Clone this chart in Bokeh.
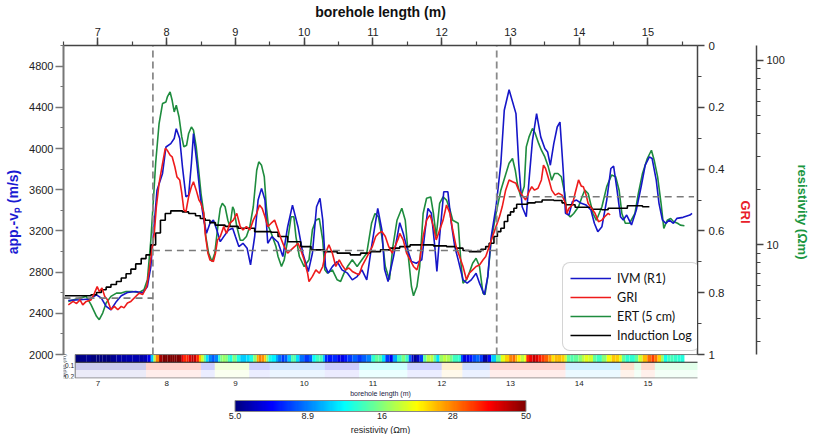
import numpy as np
from bokeh.plotting import figure
from bokeh.models import (Range1d, LinearAxis, LogAxis, LogScale, SingleIntervalTicker, FixedTicker,
                          PrintfTickFormatter, Legend, LegendItem, ColorBar, LogColorMapper, Title,
                          ColumnDataSource, Label)
from bokeh.core.properties import value
from bokeh.embed import file_html
from bokeh.resources import INLINE

# ---------------- data ----------------
ivm_x = [6.57, 6.74, 6.88, 6.98, 7.05, 7.12, 7.19, 7.27, 7.34, 7.43, 7.55, 7.65, 7.72, 7.77, 7.82, 7.86, 7.94, 7.99,
         8.06, 8.11, 8.14, 8.19, 8.23, 8.28, 8.32, 8.36, 8.39, 8.44, 8.49, 8.54, 8.58, 8.63, 8.68, 8.73, 8.78, 8.83,
         8.90, 8.96, 9.00, 9.05, 9.11, 9.17, 9.22, 9.28, 9.33, 9.38, 9.43, 9.47, 9.53, 9.62, 9.69, 9.76, 9.83, 9.91,
         9.98, 10.06, 10.12, 10.18, 10.23, 10.27, 10.31, 10.35, 10.41, 10.48, 10.55, 10.63, 10.70, 10.77, 10.84,
         10.91, 10.98, 11.07, 11.13, 11.17, 11.22, 11.30, 11.39, 11.44, 11.49, 11.56, 11.63, 11.71, 11.76, 11.80,
         11.85, 11.90, 11.93, 11.97, 12.03, 12.09, 12.14, 12.19, 12.24, 12.31, 12.37, 12.43, 12.50, 12.55, 12.62,
         12.67, 12.72, 12.79, 12.86, 12.91, 12.98, 13.08, 13.12, 13.17, 13.23, 13.27, 13.32, 13.38, 13.44, 13.50,
         13.54, 13.58, 13.63, 13.68, 13.72, 13.77, 13.80, 13.85, 13.90, 13.96, 14.03, 14.10, 14.17, 14.22, 14.27,
         14.33, 14.40, 14.46, 14.50, 14.55, 14.60, 14.64, 14.69, 14.76, 14.83, 14.90, 14.96, 15.02, 15.06, 15.12,
         15.16, 15.21, 15.26, 15.31, 15.37, 15.42, 15.51, 15.61, 15.64]
ivm_vp = [2525, 2532, 2539, 2580, 2548, 2467, 2435, 2516, 2571, 2603, 2612, 2597, 2661, 2854, 3274, 3596, 3758, 4015,
          4048, 4097, 4193, 4097, 3822, 3532, 3548, 3855, 4145, 3855, 3532, 3306, 3177, 3274, 3306, 3209, 3096, 3145,
          3209, 3226, 3145, 3048, 3080, 3032, 2870, 3145, 3500, 3613, 3500, 3080, 3145, 3090, 2951, 3241, 3451, 3241,
          2984, 2806, 2984, 3435, 3516, 3306, 2854, 2790, 2854, 2903, 2822, 2790, 2725, 2757, 2822,
          2725, 3048, 3419, 3209, 2825, 2709, 2951, 3280, 3177, 3048, 2903, 2887, 2919, 3209, 3419,
          3371, 3048, 2806, 3145, 3580, 3580, 3274, 3048, 2919, 2725, 2693, 2725, 2790, 2693, 2580,
          2757, 3145, 3435, 3855, 4371, 4571, 4339, 3855, 3435, 3338, 3693, 4080, 4339, 4113, 4000,
          3967, 3838, 4048, 4209, 4257, 3758, 3371, 3354, 3484, 3500, 3468, 3451, 3403, 3274, 3193,
          3241, 3500, 3806, 3829, 3596, 3338, 3306, 3354, 3258, 3403, 3629, 3838, 3919, 3903, 3693,
          3468, 3306, 3274, 3306, 3274, 3322, 3332, 3354, 3371]

gri_x = [6.57, 6.64, 6.69, 6.74, 6.78, 6.83, 6.90, 6.95, 6.99, 7.02, 7.06, 7.10, 7.14, 7.19, 7.24, 7.29, 7.34, 7.38,
         7.43, 7.48, 7.55, 7.60, 7.65, 7.71, 7.74, 7.78, 7.82, 7.85, 7.89, 7.94, 7.98, 8.01, 8.05, 8.08, 8.12, 8.15,
         8.19, 8.22, 8.25, 8.28, 8.32, 8.36, 8.39, 8.43, 8.47, 8.50, 8.54, 8.56, 8.60, 8.63, 8.68, 8.71, 8.74, 8.78,
         8.83, 8.87, 8.92, 8.97, 9.02, 9.07, 9.11, 9.16, 9.21, 9.26, 9.31, 9.35, 9.39, 9.43, 9.47, 9.52, 9.57,
         9.62, 9.67, 9.71, 9.76, 9.81, 9.86, 9.91, 9.95, 10.00, 10.05, 10.07, 10.12, 10.17, 10.22, 10.27, 10.31,
         10.36, 10.41, 10.46, 10.51, 10.55, 10.60, 10.65, 10.70, 10.75, 10.80, 10.84, 10.89, 10.94, 10.99, 11.04,
         11.08, 11.13, 11.18, 11.23, 11.28, 11.32, 11.37, 11.39, 11.44, 11.49, 11.54, 11.59, 11.64, 11.68, 11.73,
         11.78, 11.83, 11.88, 11.92, 11.97, 12.02, 12.07, 12.12, 12.16, 12.21, 12.26, 12.31, 12.36, 12.40, 12.45,
         12.50, 12.55, 12.60, 12.64, 12.69, 12.74, 12.79, 12.84,
         12.88, 12.93, 12.98, 13.03, 13.08, 13.12, 13.17, 13.22, 13.27, 13.31, 13.35, 13.40, 13.45, 13.48, 13.51,
         13.56, 13.60, 13.65, 13.70, 13.75, 13.80, 13.82, 13.85, 13.90, 13.94, 13.99, 14.03, 14.06, 14.10, 14.13,
         14.18, 14.23, 14.28, 14.33, 14.37, 14.42, 14.45]
gri_val = [0.839, 0.828, 0.835, 0.823, 0.839, 0.828, 0.823, 0.801, 0.780, 0.796, 0.785, 0.812, 0.823, 0.855, 0.844,
           0.855, 0.844, 0.849, 0.833, 0.828, 0.812, 0.801, 0.806, 0.780, 0.737, 0.672, 0.608, 0.522, 0.446, 0.382,
           0.333, 0.339, 0.355, 0.360, 0.393, 0.425, 0.435, 0.478, 0.532, 0.538, 0.489, 0.457, 0.441, 0.468, 0.500,
           0.511, 0.543, 0.608, 0.672, 0.694, 0.699, 0.672, 0.629, 0.618, 0.586, 0.608, 0.575, 0.565, 0.543, 0.586,
           0.597, 0.586, 0.597, 0.565, 0.543, 0.516, 0.527, 0.554, 0.586, 0.575, 0.565,
           0.597, 0.629, 0.651, 0.672, 0.661, 0.651, 0.640, 0.661, 0.694, 0.737, 0.764, 0.747, 0.726, 0.737, 0.715,
           0.672, 0.645, 0.672, 0.715, 0.694, 0.710, 0.726, 0.720, 0.731, 0.737, 0.742, 0.715, 0.694, 0.672, 0.651,
           0.618, 0.608, 0.602, 0.618, 0.651, 0.672, 0.651, 0.624, 0.608, 0.629, 0.672, 0.694, 0.715, 0.726, 0.694,
           0.618, 0.565, 0.548, 0.586, 0.629, 0.597, 0.565, 0.516, 0.543, 0.597, 0.651, 0.683, 0.715, 0.758, 0.737,
           0.726, 0.715, 0.710, 0.694, 0.683, 0.651, 0.618, 0.586, 0.554,
           0.522, 0.468, 0.435, 0.441, 0.446, 0.468, 0.484, 0.500, 0.473, 0.457, 0.468, 0.462, 0.435, 0.387, 0.398,
           0.435, 0.468, 0.484, 0.478, 0.484, 0.511, 0.543, 0.527, 0.516, 0.478, 0.435, 0.455, 0.457, 0.484, 0.511,
           0.527, 0.543, 0.570, 0.565, 0.554, 0.543, 0.548]

ert_x = [6.57, 6.74, 6.83, 6.90, 6.98, 7.02, 7.07, 7.12, 7.19, 7.27, 7.34, 7.41, 7.50, 7.60, 7.67, 7.72, 7.77, 7.81,
         7.84, 7.89, 7.94, 7.99, 8.01, 8.05, 8.08, 8.11, 8.14, 8.18, 8.22, 8.25, 8.29, 8.32, 8.36, 8.39, 8.43, 8.47,
         8.50, 8.54, 8.57, 8.61, 8.66, 8.70, 8.75, 8.78, 8.81, 8.85, 8.89, 8.92, 8.96, 8.98, 9.02, 9.07, 9.11, 9.16,
         9.21, 9.26, 9.31, 9.34, 9.38, 9.42, 9.45, 9.48, 9.52, 9.59,
         9.62, 9.67, 9.71, 9.76, 9.81, 9.85, 9.88, 9.93, 10.00, 10.07, 10.12, 10.17, 10.22, 10.27, 10.30, 10.34,
         10.41, 10.48, 10.53, 10.58, 10.63, 10.70, 10.77, 10.84, 10.91, 10.98, 11.03, 11.08, 11.13, 11.18, 11.24,
         11.29, 11.35, 11.42, 11.47, 11.52, 11.56, 11.59, 11.64, 11.68, 11.73, 11.78, 11.84, 11.88, 11.92, 11.97,
         12.02, 12.07, 12.12, 12.16, 12.24, 12.28, 12.31, 12.36, 12.40, 12.45, 12.50, 12.55, 12.60, 12.63, 12.67,
         12.72, 12.79, 12.86, 12.92,
         12.98, 13.03, 13.07, 13.10, 13.15, 13.20, 13.23, 13.27, 13.32, 13.36, 13.41, 13.45, 13.50, 13.55, 13.60,
         13.64, 13.69, 13.74, 13.79, 13.82, 13.87, 13.92, 13.99, 14.04, 14.08, 14.13, 14.20, 14.25, 14.33, 14.40,
         14.47, 14.53, 14.58, 14.62, 14.67, 14.73, 14.81, 14.86, 14.92, 14.99, 15.05, 15.09, 15.14, 15.19, 15.23,
         15.28, 15.33, 15.37, 15.43, 15.47, 15.53]
ert_res = [4.94, 5.15, 5.26, 4.74, 4.10, 3.93, 4.27, 4.84, 5.26, 5.48, 5.48, 5.59, 5.59, 5.52, 5.71, 6.47, 10.6, 18.2,
           27.7, 45.5, 58.4, 59.6, 63.4, 67.5, 60.8, 52.6, 57.2, 49.4, 38.5, 34.0, 34.7, 40.2, 43.6, 41.9, 34.0, 24.4,
           19.0, 14.8, 11.1, 9.02, 8.13, 9.02, 13.1, 15.8, 16.8, 16.1, 13.6, 12.6, 16.1, 15.5, 12.6, 10.6, 10.6, 11.1,
           12.6, 16.1, 25.4, 28.2, 27.0, 23.4, 16.1, 12.6, 11.6, 9.8,
           8.65, 7.63, 8.30, 10.6, 14.2, 14.2, 11.1, 8.65, 7.63, 8.30, 12.1, 13.6, 13.9, 10.6, 7.33, 7.03,
           7.33, 6.47, 6.34, 7.03, 7.63, 8.30, 7.63, 8.30, 9.02, 13.1, 14.8, 14.2, 11.1, 7.63, 6.47,
           9.8, 13.6, 15.8, 13.6, 8.30, 5.95, 5.30, 5.95, 7.63, 14.8, 17.9, 18.2, 14.8, 11.1, 16.8,
           18.2, 17.5, 15.5, 13.6, 13.1, 7.96, 6.21, 6.47, 7.03, 7.96, 8.47, 7.63, 5.48, 5.37, 6.74,
           10.6, 14.8, 19.8, 23.4,
           27.7, 29.4, 25.4, 21.5, 18.2, 20.7, 34.0, 38.5, 42.8, 40.2, 35.5, 32.6, 30.0, 26.5, 22.4,
           24.4, 24.4, 23.4, 19.0, 14.8, 14.2, 14.8, 16.1, 18.2, 19.8, 19.0, 14.8, 13.6, 16.1, 20.7,
           23.9, 23.4, 19.8, 14.8, 13.1, 13.1, 14.8, 19.0, 24.4, 29.4, 32.6, 28.8, 23.4, 16.8, 12.3,
           13.6, 13.9, 13.4, 13.1, 12.8, 12.7]

ind_x = [6.52, 6.90, 6.98, 7.05, 7.12, 7.19, 7.27, 7.34, 7.41, 7.48, 7.55, 7.63, 7.70, 7.77, 7.84, 7.91, 7.98, 8.06,
         8.23, 8.32, 8.42, 8.49, 8.56, 8.63, 8.71, 8.85, 9.04, 9.28, 9.52, 9.62, 9.76, 9.95, 10.10, 10.29, 10.48,
         10.67, 10.82, 10.96, 11.11, 11.25, 11.39, 11.54, 11.88, 12.07, 12.21, 12.31, 12.40, 12.57, 12.64, 12.69,
         12.76, 12.81, 12.86, 12.91, 12.96, 13.00, 13.05, 13.09, 13.25, 13.36, 13.46, 13.63, 13.75, 13.80, 13.94,
         14.18, 14.33, 14.42, 14.70, 14.92, 15.02]
ind_res = [5.30, 5.37, 5.52, 5.71, 5.90, 6.10, 6.33, 6.61, 6.97, 7.39, 7.89, 8.43, 8.83, 10.0, 11.6, 13.6, 14.8, 15.3,
           15.1, 14.8, 14.4, 13.9, 13.6, 13.2, 12.8, 12.6, 12.3, 11.8, 11.7, 11.1, 10.4, 9.79, 9.40, 9.20, 9.02,
           8.83, 9.02, 9.20, 9.40, 9.60, 9.79, 10.0, 9.88, 9.79, 9.60, 9.32, 9.20, 9.48, 9.79, 10.2,
           11.1, 11.8, 12.3, 13.4, 14.5, 15.1, 15.8, 16.6, 16.9, 17.1, 17.5, 17.4, 16.9, 16.5, 16.0,
           15.6, 15.5, 15.8, 16.3, 16.1, 16.1]

boundaries = [7.8, 12.8]                  # unit boundaries (vertical dashed lines)
zone_start = [6.5, 7.8, 12.8]
zone_end = [7.8, 12.8, 15.67]
zone_vp = [2548, 3010, 3532]              # horizontal dashed levels (m/s)

strip_lower_edges = [6.67, 7.7, 8.5, 8.7, 9.2, 9.5, 10.3, 10.8, 11.5, 12.0, 12.3, 12.7, 13.8, 14.6, 14.8, 14.9, 15.1, 15.76]
strip_lower_res = [5.5, 35, 7, 18, 7, 9, 6.5, 12, 7, 25, 8, 35, 10, 30, 15, 32, 15]

depth_ticks = [0.1, 0.2]
depth_labels = ["0.1", "0.2"]
cbar_ticks = [5.0, 8.9, 16, 28, 50]
cbar_labels = ["5.0", "8.9", "16", "28", "50"]

# ---------------- layout constants (page pixels; Bokeh page has no body margin) ----------------
W, H = 812, 434
FRAME_L, FRAME_R = 63, 703
FRAME_T, FRAME_B = 45, 379
MAIN_B = 355
VP_MIN, VP_MAX = 2000, 5000
RES_100_Y, RES_DECADE = 60, 185.0
DEPTH_PX = 110.0
STRIP_L, STRIP_R = 6.67, 15.76
STRIP_LINE = 0.07
STRIP_BOTTOM = (FRAME_B - MAIN_B) / DEPTH_PX

BLUE = "#1616c8"
RED = "#ee1b1b"
GREEN = "#1e8c3e"
AX = "#444444"
TXT = "#222222"
FONT = "Liberation Sans"


def jet(n=256):
    out = []
    for v in np.linspace(0, 1, n):
        r = np.clip(1.5 - abs(4 * v - 3), 0, 1)
        g = np.clip(1.5 - abs(4 * v - 2), 0, 1)
        b = np.clip(1.5 - abs(4 * v - 1), 0, 1)
        out.append("#%02x%02x%02x" % (int(r * 255), int(g * 255), int(b * 255)))
    return out


JET = jet()

vp_per_px = (VP_MAX - VP_MIN) / (MAIN_B - FRAME_T)
y_range = Range1d(VP_MIN - (FRAME_B - MAIN_B) * vp_per_px, VP_MAX)
gri_per_px = 1.0 / (MAIN_B - FRAME_T)
gri_range = Range1d(1 + (FRAME_B - MAIN_B) * gri_per_px, 0)
log_top = 2 + (RES_100_Y - FRAME_T) / RES_DECADE
log_mb = 2 - (MAIN_B - RES_100_Y) / RES_DECADE
log_fb = log_mb - (FRAME_B - MAIN_B) / RES_DECADE
res_range = Range1d(10 ** log_fb, 10 ** log_top)
depth_range = Range1d(STRIP_BOTTOM, -(MAIN_B - FRAME_T) / DEPTH_PX)

p = figure(width=W, height=H, x_range=Range1d(6.5, 15.72), y_range=y_range,
           x_axis_location="above", output_backend="svg", toolbar_location=None,
           min_border_left=FRAME_L, min_border_right=W - FRAME_R,
           min_border_top=FRAME_T, min_border_bottom=H - FRAME_B)
p.extra_y_ranges = {"gri": gri_range, "res": res_range, "depth": depth_range}
p.extra_y_scales = {"res": LogScale()}
p.grid.visible = False
p.outline_line_color = None
p.background_fill_color = "white"
p.border_fill_color = "white"


def style_axis(ax, size="11px"):
    ax.major_label_text_font = FONT
    ax.major_label_text_font_size = size
    ax.major_label_text_color = TXT
    ax.axis_label_text_font = FONT
    ax.axis_label_text_font_style = "bold"
    ax.axis_line_color = AX
    ax.major_tick_line_color = AX
    ax.minor_tick_line_color = AX
    ax.axis_line_width = 1.5
    ax.major_tick_line_width = 1.5
    ax.minor_tick_line_width = 1.2
    ax.major_tick_in = 0
    ax.minor_tick_in = 0


# top axis
top = p.xaxis[0]
top.ticker = SingleIntervalTicker(interval=1, num_minor_ticks=2)
style_axis(top)
top.axis_label = "borehole length (m)"
top.axis_label_text_font_size = "14px"
top.axis_label_text_color = "#111111"
top.major_tick_out = 8
top.minor_tick_out = 4
top.major_label_standoff = 2
top.axis_label_standoff = 5

# left axis (app. vp)
left = p.yaxis[0]
left.ticker = SingleIntervalTicker(interval=400, num_minor_ticks=2)
left.bounds = (VP_MIN, VP_MAX)
style_axis(left)
left.axis_line_color = "#777777"
left.axis_line_width = 2
left.major_tick_line_color = "#777777"
left.minor_tick_line_color = "#777777"
left.axis_label = "app.-v\u209a (m/s)"
left.axis_label_text_font_size = "14px"
left.axis_label_text_color = "#1a1ad2"
left.major_tick_out = 8
left.minor_tick_out = 3
left.major_label_standoff = 2
left.axis_label_standoff = 5

# GRI axis
gri_axis = LinearAxis(y_range_name="gri", ticker=SingleIntervalTicker(interval=0.2, num_minor_ticks=2),
                      bounds=(0, 1), formatter=PrintfTickFormatter(format="%.3g"))
style_axis(gri_axis, "11.5px")
gri_axis.axis_label = "GRI"
gri_axis.axis_label_text_font_size = "13px"
gri_axis.axis_label_text_color = "#e8202a"
gri_axis.major_tick_out = 7
gri_axis.minor_tick_out = 4
gri_axis.major_label_standoff = 4
gri_axis.axis_label_standoff = 11
p.add_layout(gri_axis, "right")

# resistivity axis
res_axis = LogAxis(y_range_name="res",
                   ticker=FixedTicker(ticks=[10, 100], minor_ticks=[3, 4, 5, 6, 7, 8, 9, 20, 30, 40, 50, 60, 70, 80, 90]),
                   bounds=(10 ** log_mb, 10 ** log_top), formatter=PrintfTickFormatter(format="%d"))
style_axis(res_axis, "11px")
res_axis.axis_label = "resistivity (\u03a9m)"
res_axis.axis_label_text_font_size = "13px"
res_axis.axis_label_text_color = "#1a9641"
res_axis.major_tick_out = 7
res_axis.minor_tick_out = 4
res_axis.major_label_standoff = 3
res_axis.axis_label_standoff = 7
p.add_layout(res_axis, "right")

# ---------------- resistivity strip ----------------
cmap = LogColorMapper(palette=JET, low=5, high=50)
ex = np.array(ert_x)
er = np.array(ert_res)
up_l = np.clip(ex[:-1], STRIP_L, STRIP_R)
up_r = np.clip(ex[1:], STRIP_L, STRIP_R)
keep = up_r > up_l
up_src = ColumnDataSource(dict(l=up_l[keep], r_=up_r[keep], r=er[:-1][keep]))
p.quad(left="l", right="r_", top=0, bottom=STRIP_LINE, y_range_name="depth", source=up_src,
       fill_color={"field": "r", "transform": cmap}, line_color=None)
lo_src = ColumnDataSource(dict(l=strip_lower_edges[:-1], r_=strip_lower_edges[1:], r=strip_lower_res))
p.quad(left="l", right="r_", top=STRIP_LINE, bottom=0.14, y_range_name="depth", source=lo_src,
       fill_color={"field": "r", "transform": cmap}, fill_alpha=0.2, line_color=None)
p.quad(left="l", right="r_", top=0.14, bottom=STRIP_BOTTOM, y_range_name="depth", source=lo_src,
       fill_color={"field": "r", "transform": cmap}, fill_alpha=0.08, line_color=None)
p.segment(x0=[STRIP_L], y0=[STRIP_LINE], x1=[STRIP_R], y1=[STRIP_LINE], y_range_name="depth",
          line_color="#222222", line_width=1)
p.quad(left=[STRIP_L], right=[STRIP_R], top=[0], bottom=[STRIP_BOTTOM - 0.004], y_range_name="depth",
       fill_color=None, line_color="#777777", line_width=1)
p.text(x=[STRIP_L - 0.015] * 2, y=depth_ticks, text=depth_labels, y_range_name="depth",
       text_font=value(FONT), text_font_size="6.5px", text_align="right", text_baseline="middle",
       text_color=TXT)
p.add_layout(Label(x=6.55, y=0.11, y_range_name="depth", text="depth (m)", angle=np.pi / 2,
                   text_font=FONT, text_font_size="6px", text_align="center", text_baseline="bottom",
                   text_color="#333333", level="overlay"))

# ---------------- curves ----------------
r_ert = p.line(ert_x, ert_res, y_range_name="res", line_color=GREEN, line_width=1.6)
r_ivm = p.line(ivm_x, ivm_vp, line_color=BLUE, line_width=1.6)
r_ind = p.step(ind_x, ind_res, mode="after", y_range_name="res", line_color="black", line_width=1.6)
r_gri = p.line(gri_x, gri_val, y_range_name="gri", line_color=RED, line_width=1.6)

# dashed guides
p.segment(x0=boundaries, y0=[VP_MIN] * 2, x1=boundaries, y1=[VP_MAX] * 2,
          line_color="#8a8a8a", line_width=1.8, line_dash="7 4")
p.segment(x0=zone_start, y0=zone_vp, x1=zone_end, y1=zone_vp,
          line_color="#7a7a7a", line_width=1.6, line_dash="7 5")

# ---------------- legend ----------------
legend = Legend(items=[LegendItem(label="IVM (R1)", renderers=[r_ivm]),
                       LegendItem(label="GRI", renderers=[r_gri]),
                       LegendItem(label="ERT (5 cm)", renderers=[r_ert]),
                       LegendItem(label="Induction Log", renderers=[r_ind])],
                location=(562 - FRAME_L, FRAME_B - 352))
legend.label_text_font = "Lato"
legend.label_text_font_size = "12.5px"
legend.label_text_color = "#111111"
legend.glyph_width = 41
legend.glyph_height = 16
legend.label_height = 16
legend.spacing = 3
legend.padding = 7
legend.margin = 0
legend.label_standoff = 6
legend.border_line_color = "#aaaaaa"
legend.border_line_width = 1
legend.background_fill_color = "white"
legend.background_fill_alpha = 1
try:
    legend.border_radius = 8
except Exception:
    pass
p.add_layout(legend, "center")

# ---------------- strip x axis, colour bar ----------------
strip_axis = LinearAxis(ticker=SingleIntervalTicker(interval=1, num_minor_ticks=0))
strip_axis.axis_line_color = None
strip_axis.major_tick_out = 0
strip_axis.major_tick_in = 0
strip_axis.minor_tick_line_color = None
strip_axis.major_label_text_font = FONT
strip_axis.major_label_text_font_size = "8px"
strip_axis.major_label_text_color = TXT
strip_axis.major_label_standoff = 2
strip_axis.axis_label = "borehole length (m)"
strip_axis.axis_label_text_font = FONT
strip_axis.axis_label_text_font_style = "normal"
strip_axis.axis_label_text_font_size = "7px"
strip_axis.axis_label_text_color = "#222244"
strip_axis.axis_label_standoff = 1
p.add_layout(strip_axis, "below")

cb = ColorBar(color_mapper=cmap, orientation="horizontal", width=291, height=11, location="center",
              ticker=FixedTicker(ticks=cbar_ticks),
              major_label_overrides={t: s for t, s in zip(cbar_ticks, cbar_labels)},
              major_label_text_font=FONT, major_label_text_font_size="9px",
              major_label_text_color=TXT, label_standoff=1, padding=1, margin=0,
              major_tick_line_color=None, minor_tick_line_color=None,
              bar_line_color="#888888", border_line_color=None, background_fill_alpha=0)
p.add_layout(cb, "below")
p.add_layout(Title(text="resistivity (\u03a9m)", align="center", text_font=FONT, text_font_size="9px",
                   text_font_style="normal", text_color=TXT, standoff=0), "below")

open("out.html", "w").write(file_html(p, INLINE))
